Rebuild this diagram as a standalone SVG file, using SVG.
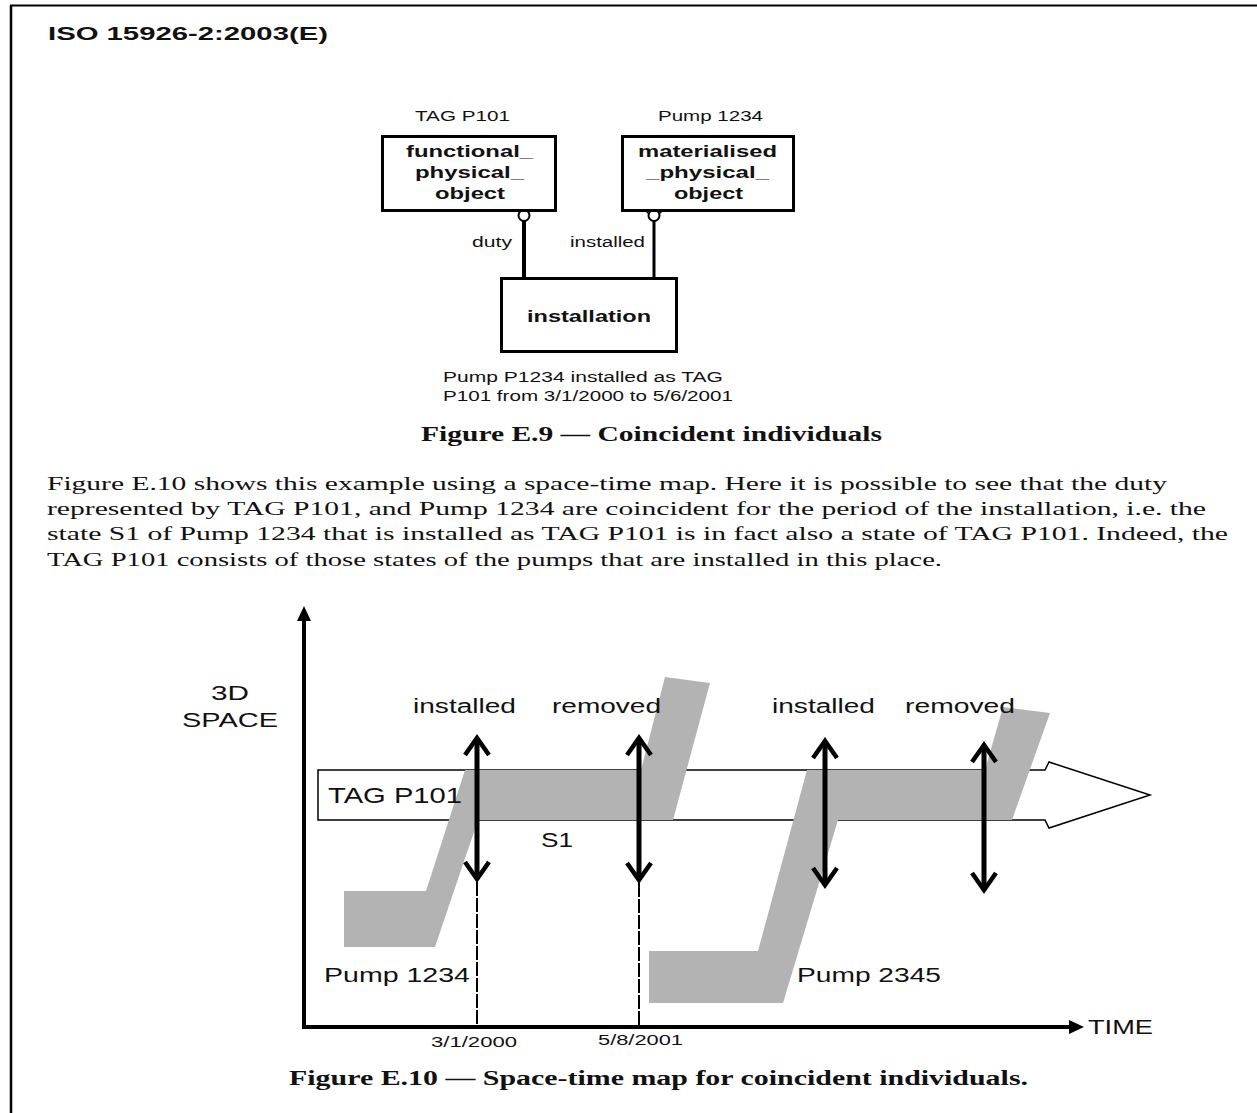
<svg xmlns="http://www.w3.org/2000/svg" width="1257" height="1113" viewBox="0 0 1257 1113">
<defs>
<style>
.sans{font-family:"Liberation Sans",Arial,sans-serif;fill:#111}
.serif{font-family:"Liberation Serif","Times New Roman",serif;fill:#111}
.b{font-weight:bold}
.box{fill:#fff;stroke:#000;stroke-width:3}
.rel{stroke:#000;fill:none}
.ring{fill:#fff;stroke:#000;stroke-width:2}
.gray{fill:#b3b3b3;stroke:none}
.axis{stroke:#000;stroke-width:4;fill:none}
.dbl{stroke:#000;stroke-width:5;fill:none;marker-start:url(#chev);marker-end:url(#chev)}
.dash{stroke:#000;stroke-width:2;stroke-dasharray:14 2;fill:none}
</style>
<marker id="chev" viewBox="-24 -16 28 32" refX="0" refY="0" markerWidth="28" markerHeight="32" markerUnits="userSpaceOnUse" orient="auto-start-reverse">
<path d="M-17,-12 L0,0 L-17,12" fill="none" stroke="#000" stroke-width="4.5"/>
</marker>
<marker id="tri" viewBox="0 -8 16 16" refX="2" refY="0" markerWidth="16" markerHeight="16" markerUnits="userSpaceOnUse" orient="auto">
<path d="M0,-7 L15,0 L0,7 Z" fill="#000"/>
</marker>
</defs>
<rect width="1257" height="1113" fill="#fff"/>
<!-- page border -->
<line x1="10" y1="5.5" x2="1257" y2="5.5" stroke="#000" stroke-width="2"/>
<line x1="11" y1="5" x2="11" y2="1113" stroke="#000" stroke-width="2.5"/>
<text class="sans b" x="48" y="40" font-size="19" textLength="280" lengthAdjust="spacingAndGlyphs">ISO 15926-2:2003(E)</text>

<!-- Figure E.9 -->
<g id="connectors">
<line class="rel" x1="524" y1="220" x2="524" y2="278" stroke-width="4"/>
<circle class="ring" cx="524" cy="215.5" r="5.5"/>
<line class="rel" x1="654" y1="220" x2="654" y2="278" stroke-width="3"/>
<path class="rel" d="M646,211 L654,219 L662,211" stroke-width="1.5"/>
<circle class="ring" cx="654" cy="215.5" r="5.5"/>
<text class="sans" x="472" y="247" font-size="14" textLength="40" lengthAdjust="spacingAndGlyphs">duty</text>
<text class="sans" x="570" y="247" font-size="14" textLength="75" lengthAdjust="spacingAndGlyphs">installed</text>
</g>
<g id="functional_physical_object">
<text class="sans" x="415" y="121" font-size="15" textLength="95" lengthAdjust="spacingAndGlyphs">TAG P101</text>
<rect class="box" x="382.5" y="136.5" width="173" height="74"/>
<text class="sans b" x="406" y="157" font-size="16" textLength="127" lengthAdjust="spacingAndGlyphs">functional_</text>
<text class="sans b" x="415" y="178" font-size="16" textLength="109" lengthAdjust="spacingAndGlyphs">physical_</text>
<text class="sans b" x="435" y="199" font-size="16" textLength="70" lengthAdjust="spacingAndGlyphs">object</text>
</g>
<g id="materialised_physical_object">
<text class="sans" x="658" y="121" font-size="15" textLength="105" lengthAdjust="spacingAndGlyphs">Pump 1234</text>
<rect class="box" x="622.5" y="136.5" width="171" height="74"/>
<text class="sans b" x="638" y="157" font-size="16" textLength="139" lengthAdjust="spacingAndGlyphs">materialised</text>
<text class="sans b" x="646" y="178" font-size="16" textLength="123" lengthAdjust="spacingAndGlyphs">_physical_</text>
<text class="sans b" x="674" y="199" font-size="16" textLength="69" lengthAdjust="spacingAndGlyphs">object</text>
</g>
<g id="installation">
<rect class="box" x="501.5" y="278.5" width="175" height="73"/>
<text class="sans b" x="527" y="322" font-size="16" textLength="124" lengthAdjust="spacingAndGlyphs">installation</text>
<text class="sans" x="443" y="382" font-size="14" textLength="280" lengthAdjust="spacingAndGlyphs">Pump P1234 installed as TAG</text>
<text class="sans" x="443" y="401" font-size="14" textLength="290" lengthAdjust="spacingAndGlyphs">P101 from 3/1/2000 to 5/6/2001</text>
</g>
<text class="serif b" x="421" y="441" font-size="20" textLength="461" lengthAdjust="spacingAndGlyphs">Figure E.9 — Coincident individuals</text>

<!-- paragraph -->
<text class="serif" x="47" y="490" font-size="19" textLength="1120" lengthAdjust="spacingAndGlyphs">Figure E.10 shows this example using a space-time map. Here it is possible to see that the duty</text>
<text class="serif" x="47" y="515" font-size="19" textLength="1159" lengthAdjust="spacingAndGlyphs">represented by TAG P101, and Pump 1234 are coincident for the period of the installation, i.e. the</text>
<text class="serif" x="47" y="540" font-size="19" textLength="1181" lengthAdjust="spacingAndGlyphs">state S1 of Pump 1234 that is installed as TAG P101 is in fact also a state of TAG P101. Indeed, the</text>
<text class="serif" x="47" y="566" font-size="19" textLength="895" lengthAdjust="spacingAndGlyphs">TAG P101 consists of those states of the pumps that are installed in this place.</text>

<!-- Figure E.10 space-time map -->
<g id="tag-p101-band">
<path d="M318,770 L1045,770 L1049,762 L1150,795 L1049,828 L1045,820 L318,820 Z" fill="#fff" stroke="#000" stroke-width="1.5"/>
</g>
<g id="pump-1234">
<path class="gray" d="M344,891 L426,891 L465,770 L641,770 L665,677 L710,683 L673,820 L478,820 L435,947 L344,947 Z"/>
</g>
<g id="pump-2345">
<path class="gray" d="M649,951 L758,951 L807,770 L985,770 L1003,707 L1050,713 L1012,820 L838,820 L783,1003 L649,1003 Z"/>
</g>
<g id="axes">
<line class="axis" x1="304" y1="1027" x2="304" y2="619" marker-end="url(#tri)"/>
<line class="axis" x1="302" y1="1027" x2="1071" y2="1027" marker-end="url(#tri)"/>
</g>
<g id="events">
<line class="dbl" x1="477" y1="738" x2="477" y2="879"/>
<line class="dbl" x1="639" y1="738" x2="639" y2="880"/>
<line class="dbl" x1="825" y1="741" x2="825" y2="885"/>
<line class="dbl" x1="984" y1="745" x2="984" y2="890"/>
<line class="dash" x1="477" y1="882" x2="477" y2="1026"/>
<line class="dash" x1="639" y1="883" x2="639" y2="1026"/>
</g>
<g id="map-labels">
<text class="sans" x="211" y="700" font-size="20" textLength="38" lengthAdjust="spacingAndGlyphs">3D</text>
<text class="sans" x="182" y="727" font-size="20" textLength="96" lengthAdjust="spacingAndGlyphs">SPACE</text>
<text class="sans" x="413" y="713" font-size="20" textLength="103" lengthAdjust="spacingAndGlyphs">installed</text>
<text class="sans" x="552" y="713" font-size="20" textLength="109" lengthAdjust="spacingAndGlyphs">removed</text>
<text class="sans" x="772" y="713" font-size="20" textLength="103" lengthAdjust="spacingAndGlyphs">installed</text>
<text class="sans" x="905" y="713" font-size="20" textLength="110" lengthAdjust="spacingAndGlyphs">removed</text>
<text class="sans" x="328" y="803" font-size="22" textLength="134" lengthAdjust="spacingAndGlyphs">TAG P101</text>
<text class="sans" x="541" y="847" font-size="20" textLength="32" lengthAdjust="spacingAndGlyphs">S1</text>
<text class="sans" x="324" y="982" font-size="20" textLength="146" lengthAdjust="spacingAndGlyphs">Pump 1234</text>
<text class="sans" x="797" y="982" font-size="20" textLength="144" lengthAdjust="spacingAndGlyphs">Pump 2345</text>
<text class="sans" x="431" y="1047" font-size="15" textLength="86" lengthAdjust="spacingAndGlyphs">3/1/2000</text>
<text class="sans" x="598" y="1045" font-size="15" textLength="85" lengthAdjust="spacingAndGlyphs">5/8/2001</text>
<text class="sans" x="1088" y="1034" font-size="20" textLength="65" lengthAdjust="spacingAndGlyphs">TIME</text>
</g>
<text class="serif b" x="289" y="1085" font-size="20" textLength="739" lengthAdjust="spacingAndGlyphs">Figure E.10 — Space-time map for coincident individuals.</text>
</svg>
